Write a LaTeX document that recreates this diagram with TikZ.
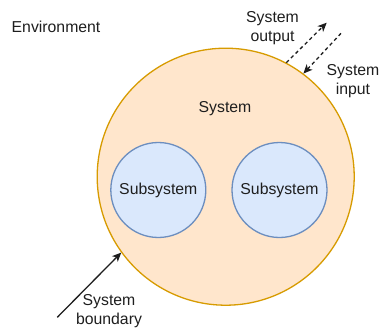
\documentclass[tikz,border=0pt]{standalone}
\usepackage{fontspec}
\setmainfont{Liberation Sans}
\usetikzlibrary{arrows.meta}
\definecolor{sysfill}{HTML}{FFE6CC}
\definecolor{sysline}{HTML}{D79B00}
\definecolor{subfill}{HTML}{DAE8FC}
\definecolor{subline}{HTML}{6C8EBF}
\definecolor{ink}{HTML}{1E1E1E}
\begin{document}
\begin{tikzpicture}[x=1pt,y=-1pt,
  every node/.style={font=\fontsize{15.8}{19.5}\selectfont, text=ink, inner sep=0pt},
  syscircle/.style={circle, draw=sysline, fill=sysfill, line width=1.3pt, minimum size=257pt},
  subcircle/.style={circle, draw=subline, fill=subfill, line width=1.3pt, minimum size=95pt},
  label/.style={align=center},
  flow/.style={draw=ink, line width=1.3pt, dashed, dash pattern=on 3.5pt off 3pt, -{Stealth[length=9pt,width=8pt,inset=2.5pt]}},
  pointer/.style={draw=ink, line width=1.3pt, -{Stealth[length=9pt,width=8pt,inset=2.5pt]}}]
\useasboundingbox (0,0) rectangle (380,329);

% the system and its parts
\node[syscircle] (sys) at (225.7,176.7) {};
\node (systext) at (225,109) {System};
\node[subcircle] (subA) at (158.3,190) {Subsystem};
\node[subcircle] (subB) at (279.5,190) {Subsystem};

% surroundings and labels
\node[anchor=west] (env) at (11.5,27) {Environment};
\node[label] (outlbl) at (272.5,28) {System\\output};
\node[label] (inlbl) at (353,81) {System\\input};
\node[label] (bndlbl) at (109,311) {System\\boundary};

% free ends of the connectors
\coordinate (outend) at (326.7,22.7);
\coordinate (instart) at (341,33.3);
\coordinate (bndstart) at (57.3,317.3);

% exchange across the boundary
\draw[flow] (sys.62.7) -- (outend);
\draw[flow] (instart) -- (sys.53.7);
\draw[pointer] (bndstart) -- (sys.216.6);
\end{tikzpicture}
\end{document}
